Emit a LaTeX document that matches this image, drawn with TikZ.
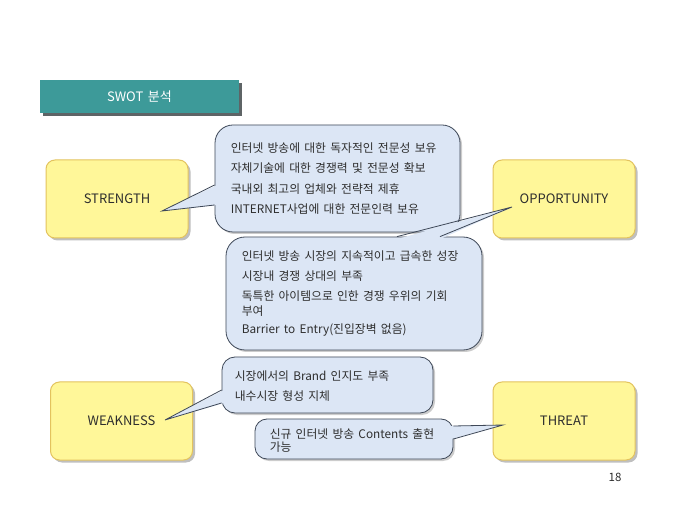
\documentclass[tikz,border=0pt]{standalone}
\usepackage{fontspec}
\setmainfont[WordSpace=1.6]{Noto Sans CJK KR}
\usetikzlibrary{shadows,calc}
\definecolor{tealbox}{HTML}{3D9A99}
\definecolor{tealshadow}{HTML}{5E6466}
\definecolor{yfill}{HTML}{FFF799}
\definecolor{yline}{HTML}{E3C35E}
\definecolor{bfill}{HTML}{DCE6F5}
\definecolor{bline}{HTML}{3E4858}
\definecolor{txt}{HTML}{2E2E2E}
\begin{document}
\begin{tikzpicture}[x=1pt,y=-1pt,
  titlebox/.style={fill=tealbox, minimum width=199pt, minimum height=33pt, inner sep=0pt,
    text=white, font=\fontsize{13}{15}\selectfont},
  ybox/.style={draw=yline, line width=1pt, fill=yfill, rounded corners=9pt,
    minimum width=142pt, minimum height=78pt, inner sep=0pt, text=txt,
    font=\fontsize{13}{15}\selectfont,
    drop shadow={shadow xshift=2.5pt, shadow yshift=-2.5pt, fill=black, opacity=0.25}},
  bubble/.style={draw=bline, line width=0.8pt, fill=bfill, inner sep=0pt,
    drop shadow={shadow xshift=2pt, shadow yshift=-2pt, fill=black, opacity=0.2}},
  btext/.style={anchor=west, align=left, inner sep=0pt, text=txt,
    font=\fontsize{11.8}{15}\selectfont},
  wedgefill/.style={fill=bfill},
  wedgeline/.style={draw=bline, line width=0.8pt, line join=miter},
  pagenum/.style={text=txt, font=\fontsize{11.5}{13}\selectfont}
]
\useasboundingbox (0,0) rectangle (680,510);
\fill[white] (0,0) rectangle (680,510);

% title
\fill[tealshadow] (43,83) rectangle (242,116);
\node[titlebox] (title) at (139.5,96.5) {SWOT 분석};

% yellow boxes
\node[ybox] (s) at (117,199) {STRENGTH};
\node[ybox] (o) at (564,199) {OPPORTUNITY};
\node[ybox] (w) at (121.5,421) {WEAKNESS};
\node[ybox] (t) at (564,421) {THREAT};

% bubble 1 (strength)
\node[bubble, rounded corners=18pt, minimum width=245pt, minimum height=107pt] (b1) at (337.5,178.5) {};
\coordinate (tip1) at (162,211);
\fill[wedgefill] ($(b1.west)+(2.5,6.5)$) -- (tip1) -- ($(b1.west)+(2.5,26.5)$) -- cycle;
\draw[wedgeline] ($(b1.west)+(0,6.5)$) -- (tip1) -- ($(b1.west)+(0,26.5)$);
\node[btext] (t1) at ($(b1.west)+(16,0)$) {인터넷 방송에 대한 독자적인 전문성 보유\\[5.5pt]
자체기술에 대한 경쟁력 및 전문성 확보\\[5.5pt]
국내외 최고의 업체와 전략적 제휴\\[5.5pt]
INTERNET사업에 대한 전문인력 보유};

% bubble 2 (opportunity)
\node[bubble, rounded corners=19pt, minimum width=256pt, minimum height=113pt] (b2) at (354,293.5) {};
\coordinate (tip2) at (512,207);
\fill[wedgefill] ($(b2.north)+(43,2.5)$) -- (tip2) -- ($(b2.north)+(86,2.5)$) -- cycle;
\draw[wedgeline] ($(b2.north)+(43,0)$) -- (tip2) -- ($(b2.north)+(86,0)$);
\node[btext] (t2) at ($(b2.west)+(16,0)$) {인터넷 방송 시장의 지속적이고 급속한 성장\\[5pt]
시장내 경쟁 상대의 부족\\[5pt]
독특한 아이템으로 인한 경쟁 우위의 기회\\
부여\\[3pt]
Barrier to Entry(진입장벽 없음)};

% bubble 3 (weakness)
\node[bubble, rounded corners=13pt, minimum width=211pt, minimum height=56pt] (b3) at (327.5,385) {};
\coordinate (tip3) at (165,420);
\fill[wedgefill] ($(b3.west)+(2.5,5)$) -- (tip3) -- ($(b3.west)+(2.5,18)$) -- cycle;
\draw[wedgeline] ($(b3.west)+(0,5)$) -- (tip3) -- ($(b3.west)+(0,18)$);
\node[btext] (t3) at ($(b3.west)+(13,1)$) {시장에서의 Brand 인지도 부족\\[5pt]
내수시장 형성 지체};

% bubble 4 (threat)
\node[bubble, rounded corners=12pt, minimum width=198pt, minimum height=40pt] (b4) at (354,439) {};
\coordinate (tip4) at (503,425);
\fill[wedgefill] ($(b4.east)+(-2.5,-13)$) -- (tip4) -- ($(b4.east)+(-2.5,0)$) -- cycle;
\draw[wedgeline] ($(b4.east)+(0,-13)$) -- (tip4) -- ($(b4.east)+(0,0)$);
\node[btext, font=\fontsize{11.8}{13}\selectfont] (t4) at ($(b4.west)+(15,1.5)$) {신규 인터넷 방송 Contents 출현\\
가능};

\node[pagenum] (pg) at (615,477) {18};
\end{tikzpicture}
\end{document}
